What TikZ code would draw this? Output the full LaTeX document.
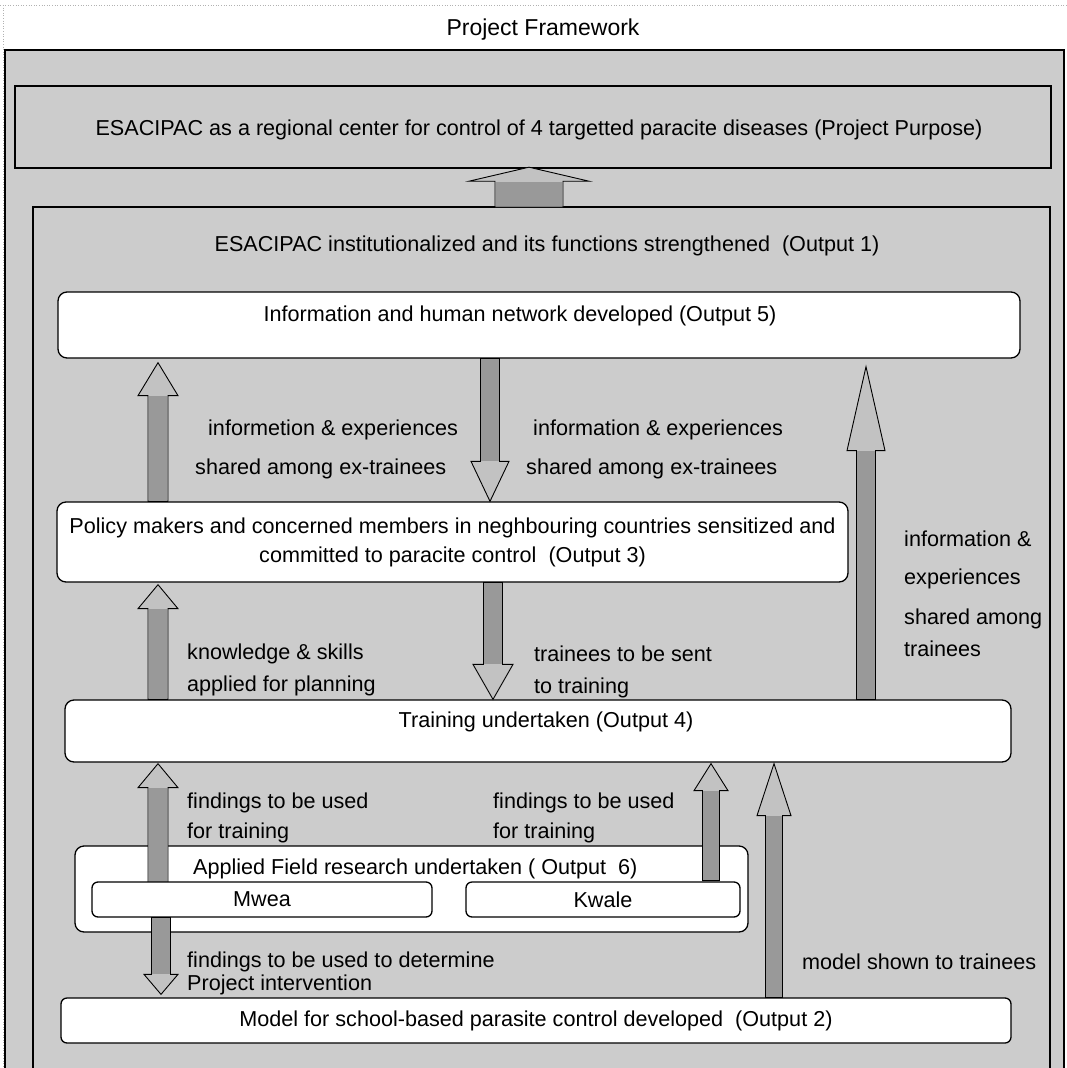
\documentclass[tikz,border=0pt]{standalone}
\usepackage{fontspec}
\setmainfont{Liberation Sans}
\usetikzlibrary{calc}
\definecolor{bggray}{gray}{0.80}
\definecolor{shaftgray}{gray}{0.60}
\definecolor{headgray}{gray}{0.76}
\tikzset{
  framebox/.style={draw=black, line width=1.3pt, fill=bggray},
  wbox/.style={draw=black, line width=1.3pt, fill=white, rounded corners=9pt, inner sep=0pt},
  txt/.style={font=\fontsize{21.6}{29}\selectfont, inner sep=0pt},
  lbl/.style={font=\fontsize{21.6}{24}\selectfont, inner sep=0pt, anchor=west},
  barrow/.style={draw=black, line width=0.9pt, fill=headgray, line join=miter},
}
% #1 tail, #2 tip, #3 shaft half width, #4 head half width, #5 head length
\newcommand\blkup[5]{%
  \draw[barrow] let \p1=(#1), \p2=(#2) in
    (\x1-#3pt,\y1) -- (\x1-#3pt,\y2-#5pt) -- (\x1-#4pt,\y2-#5pt) -- (\x1,\y2)
    -- (\x1+#4pt,\y2-#5pt) -- (\x1+#3pt,\y2-#5pt) -- (\x1+#3pt,\y1) -- cycle;
  \fill[shaftgray] let \p1=(#1), \p2=(#2) in
    (\x1-#3pt+0.7pt,\y1+0.7pt) rectangle (\x1+#3pt-0.7pt,\y2-#5pt-0.7pt);}
\newcommand\blkdown[5]{%
  \draw[barrow] let \p1=(#1), \p2=(#2) in
    (\x1-#3pt,\y1) -- (\x1-#3pt,\y2+#5pt) -- (\x1-#4pt,\y2+#5pt) -- (\x1,\y2)
    -- (\x1+#4pt,\y2+#5pt) -- (\x1+#3pt,\y2+#5pt) -- (\x1+#3pt,\y1) -- cycle;
  \fill[shaftgray] let \p1=(#1), \p2=(#2) in
    (\x1-#3pt+0.7pt,\y1-0.7pt) rectangle (\x1+#3pt-0.7pt,\y2+#5pt+0.7pt);}
\begin{document}
\begin{tikzpicture}[x=1pt,y=-1pt]
\useasboundingbox (0,0) rectangle (1067,1068);
\fill[white] (0,0) rectangle (1067,1068);
% faint scan border
\draw[gray!60, dotted, line width=0.6pt] (0,5) -- (1067,5);
\draw[gray!60, dotted, line width=0.6pt] (3,5) -- (3,1068);
% title
\node[txt, font=\fontsize{23}{26}\selectfont] (title) at (543,30) {Project Framework};
% outer frame (cut at bottom)
\fill[bggray] (5,50) rectangle (1064,1068);
\draw[line width=1.4pt] (5,1068) -- (5,50) -- (1064,50) -- (1064,1068);
% project purpose
\node[framebox, line width=2.4pt, minimum width=1036pt, minimum height=82pt, inner sep=0pt] (purpose) at (533,127) {};
\node[txt] (purposetxt) at (539,130) {ESACIPAC as a regional center for control of 4 targetted paracite diseases (Project Purpose)};
% output 1 frame (cut at bottom)
\fill[bggray] (33,207) rectangle (1050,1068);
\draw[line width=1.4pt] (33,1068) -- (33,207) -- (1050,207) -- (1050,1068);
\coordinate (o1top) at (529,207);
\node[txt] (o1txt) at (547,246) {ESACIPAC institutionalized and its functions strengthened\ \ (Output 1)};
% labels
\node[lbl] (la1) at (208,430) {informetion \& experiences};
\node[lbl] (la2) at (195,469) {shared among ex-trainees};
\node[lbl] (lb1) at (533,430) {information \& experiences};
\node[lbl] (lb2) at (526,469) {shared among ex-trainees};
\node[lbl] (lr1) at (904,539) {information \&};
\node[lbl] (lr2) at (904,579) {experiences};
\node[lbl] (lr3) at (904,619) {shared among};
\node[lbl] (lr4) at (904,649) {trainees};
\node[lbl] (lc1) at (187,654) {knowledge \& skills};
\node[lbl] (lc2) at (187,686) {applied for planning};
\node[lbl] (ld1) at (534,654) {trainees to be sent};
\node[lbl] (ld2) at (534,688) {to training};
\node[lbl] (le1) at (187,803) {findings to be used};
\node[lbl] (le2) at (187,833) {for training};
\node[lbl] (lf1) at (493,803) {findings to be used};
\node[lbl] (lf2) at (493,833) {for training};
\node[lbl] (lg1) at (187,962) {findings to be used to determine};
\node[lbl] (lg2) at (187,985) {Project intervention};
\node[lbl] (lh1) at (802,962) {model shown to trainees};
% white boxes
\node[wbox, minimum width=962pt, minimum height=66pt] (o5) at (539,325) {};
\node[txt] (o5txt) at (520,316) {Information and human network developed (Output 5)};
\node[wbox, minimum width=791pt, minimum height=80pt, txt, align=center] (policy) at (452.5,542)
  {Policy makers and concerned members in neghbouring countries sensitized and\\committed to paracite control\ \ (Output 3)};
\node[wbox, minimum width=946pt, minimum height=62pt] (train) at (538,731) {};
\node[txt] (traintxt) at (546,722) {Training undertaken (Output 4)};
\node[wbox, minimum width=673pt, minimum height=86pt] (applied) at (411.5,889) {};
\node[txt, anchor=west] (appliedtxt) at (193,869) {Applied Field research undertaken\ ( Output\ \ 6)};
\node[wbox, rounded corners=6pt, minimum width=950pt, minimum height=45pt, txt] (o2) at (536,1020.5)
  {Model for school-based parasite control developed\ \ (Output 2)};
% columns
\coordinate (cA) at (158,0);
\coordinate (cD1) at (490,0);
\coordinate (cD2) at (493,0);
\coordinate (cR) at (866,0);
\coordinate (cK) at (711,0);
\coordinate (cM) at (774,0);
\coordinate (cG) at (161,0);
% arrows
\blkup{o1top}{$(purpose.south -| o1top)+(0,-2)$}{34}{60}{14}
\blkup{policy.north -| cA}{$(o5.south -| cA)+(0,4)$}{10}{20}{33}
\blkdown{o5.south -| cD1}{policy.north -| cD1}{9.5}{19}{40}
\blkup{train.north -| cR}{$(o5.south -| cR)+(0,8)$}{9.5}{19}{84}
\blkup{train.north -| cA}{$(policy.south -| cA)+(0,2)$}{10}{20}{24}
\blkdown{policy.south -| cD2}{train.north -| cD2}{9.5}{20}{35}
\blkup{$(train.south -| cA)+(0,120)$}{$(train.south -| cA)+(0,1)$}{10}{20}{24}
\blkup{$(train.south -| cK)+(0,118)$}{$(train.south -| cK)+(0,1)$}{8.5}{17}{27}
\blkup{o2.north -| cM}{$(train.south -| cM)+(0,1)$}{8.5}{17}{52}
% sub boxes
\node[wbox, rounded corners=6pt, minimum width=340pt, minimum height=35pt, txt] (mwea) at (262,899.5) {Mwea};
\node[wbox, rounded corners=6pt, minimum width=274pt, minimum height=35pt, txt] (kwale) at (603,899.5) {Kwale};
\blkdown{mwea.south -| cG}{$(o2.north -| cG)+(0,-3)$}{9.5}{17}{20}
\end{tikzpicture}
\end{document}
